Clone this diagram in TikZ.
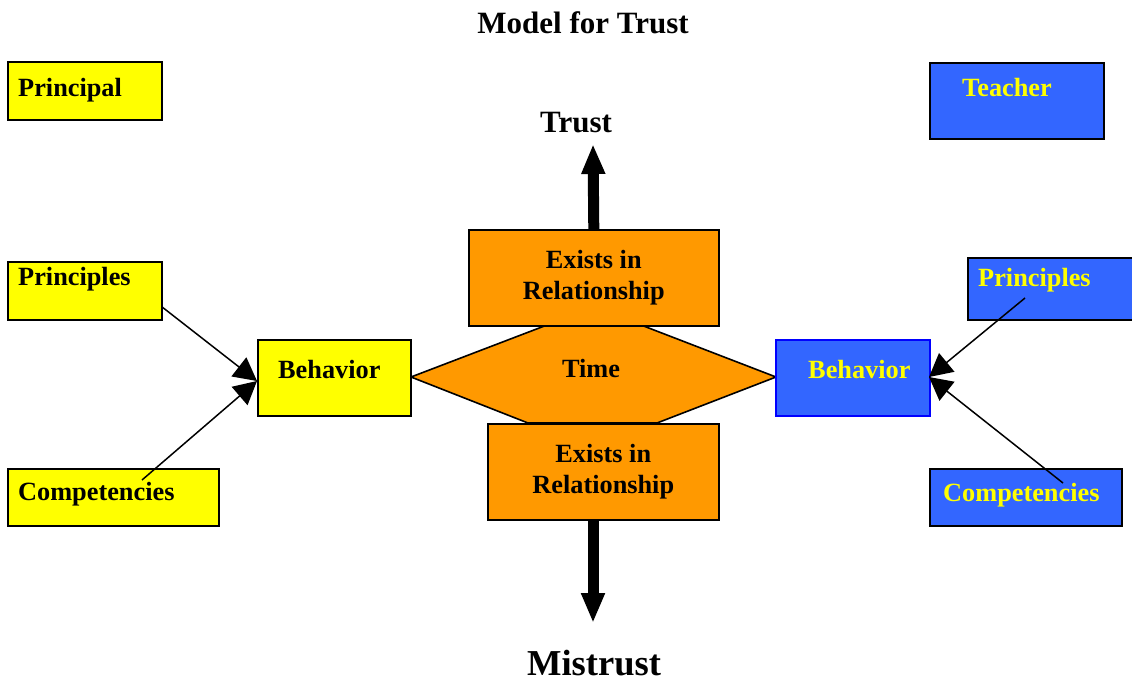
\documentclass[tikz,border=0pt]{standalone}
\usepackage{fontspec}
\setmainfont{Liberation Serif}
\usetikzlibrary{arrows.meta,calc}
\definecolor{cyel}{HTML}{FFFF00}
\definecolor{cblue}{HTML}{3366FF}
\definecolor{cblueline}{HTML}{0000FF}
\definecolor{corange}{HTML}{FF9900}
\begin{document}
\begin{tikzpicture}[x=1pt,y=-1pt,
  boxbase/.style={rectangle,draw=black,line width=1.6pt,inner sep=0pt,anchor=north west},
  ybox/.style={boxbase,fill=cyel},
  bbox/.style={boxbase,fill=cblue},
  obox/.style={boxbase,fill=corange,align=center,font=\bfseries\fontsize{26.3}{31.6}\selectfont},
  ltxt/.style={inner sep=0pt,anchor=base west,font=\bfseries\fontsize{26.3}{31.6}\selectfont},
  ytxt/.style={ltxt,text=cyel},
  bigtxt/.style={inner sep=0pt,anchor=base,font=\bfseries\fontsize{31}{37}\selectfont},
  thin/.style={line width=1.5pt,-{Triangle[length=23pt,width=24pt]}},
  thick/.style={line width=11pt,-{Triangle[length=30pt,width=22pt]}}]
\useasboundingbox (0,0) rectangle (1132,681);
% title and labels
\node[bigtxt] (title) at (583,33) {Model for Trust};
\node[bigtxt] (trust) at (576,132) {Trust};
\node[bigtxt,font=\bfseries\fontsize{36.5}{44}\selectfont] (mistrust) at (594,675) {Mistrust};
% hexagon (Time)
\coordinate (hl) at (411,377);
\coordinate (hr) at (776,377);
\fill[corange,draw=black,line width=1.6pt] (hl) -- (547,325) -- (641,325) -- (hr) -- (657,423) -- (528,423) -- cycle;
\node[inner sep=0pt,anchor=base,font=\bfseries\fontsize{26.3}{31.6}\selectfont] (time) at (591,377) {Time};
% orange boxes
\node[obox,minimum width=250,minimum height=96] (ex1) at (468,229) {Exists in\\Relationship};
\node[obox,minimum width=231,minimum height=96] (ex2) at (487,423) {Exists in\\Relationship};
% left column
\node[ybox,minimum width=154,minimum height=58] (principal) at (7,61) {};
\node[ltxt] (principalT) at (18,96) {Principal};
\node[ybox,minimum width=154,minimum height=58] (prinL) at (7,261) {};
\node[ltxt] (prinLT) at (18,285) {Principles};
\node[ybox,minimum width=211,minimum height=57] (compL) at (7,468) {};
\node[ltxt] (compLT) at (18,500) {Competencies};
\node[ybox,minimum width=153,minimum height=76] (behL) at (257,339) {};
\node[ltxt] (behLT) at (278,378) {Behavior};
% right column
\node[bbox,minimum width=174,minimum height=76] (teacher) at (929,62) {};
\node[ytxt] (teacherT) at (962,96) {Teacher};
\node[bbox,minimum width=180,minimum height=62] (prinR) at (967,257) {};
\node[ytxt] (prinRT) at (978,286) {Principles};
\node[bbox,minimum width=192,minimum height=57] (compR) at (929,468) {};
\node[ytxt] (compRT) at (943,501) {Competencies};
\node[bbox,draw=cblueline,minimum width=154,minimum height=76] (behR) at (775,339) {};
\node[ytxt] (behRT) at (808,378) {Behavior};
% thick arrows
\coordinate (uptip) at (593,144);
\coordinate (downtip) at (593,623);
\draw[thick] (ex1.north) -- (uptip);
\draw[thick] (ex2.south -| downtip) -- (downtip);
% thin arrows
\coordinate (tipL) at (257,381);
\coordinate (tipR) at (929,377);
\coordinate (sPL) at (161.5,306.5);
\coordinate (sCL) at (142,480);
\coordinate (sPR) at (1025,298);
\coordinate (sCR) at (1063,483);
\draw[thin] (sPL) -- (tipL);
\draw[thin] (sCL) -- (tipL);
\draw[thin] (sPR) -- (tipR);
\draw[thin] (sCR) -- (tipR);
\end{tikzpicture}
\end{document}
